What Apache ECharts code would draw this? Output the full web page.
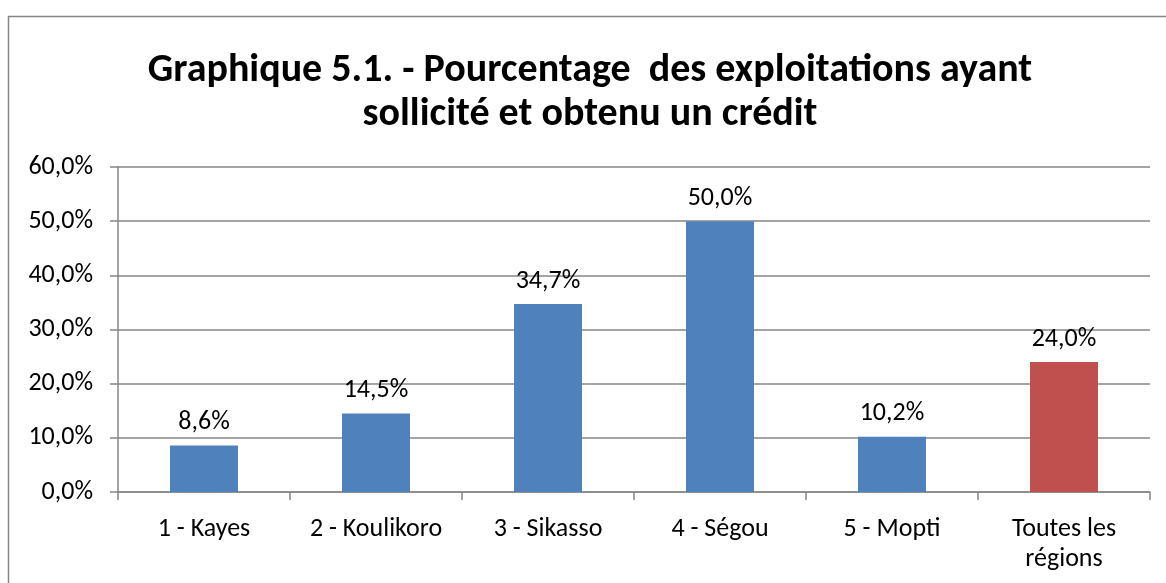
<!DOCTYPE html>
<html>
<head>
<meta charset="utf-8">
<script src="https://cdn.jsdelivr.net/npm/echarts@6/dist/echarts.min.js"></script>
<style>
  html, body { margin: 0; padding: 0; background: #fff; }
  #chart { width: 1166px; height: 583px; }
</style>
</head>
<body>
<div id="chart"></div>
<script>
const regions = ['1 - Kayes', '2 - Koulikoro', '3 - Sikasso', '4 - Ségou', '5 - Mopti', 'Toutes les\nrégions']
const creditPct = [8.6, 14.5, 34.7, 50.0, 10.2, 24.0]
const yTicks = { min: 0, max: 60, interval: 10 }

const FONT = 'Carlito, Calibri, Lato, sans-serif'
const BLUE = '#4F81BD'
const RED = '#C0504D'
const GRID_COLOR = '#868686'

const fmt = (v) => v.toFixed(1).replace('.', ',') + '%'

const chart = echarts.init(document.getElementById('chart'))
chart.setOption({
  animation: false,
  backgroundColor: '#fff',
  textStyle: { fontFamily: FONT, color: '#000' },
  title: {
    text: 'Graphique 5.1. - Pourcentage  des exploitations ayant\nsollicité et obtenu un crédit',
    left: 585,
    top: 44,
    textAlign: 'center',
    textStyle: {
      fontFamily: FONT,
      fontSize: 40,
      fontWeight: 'bold',
      color: '#000',
      lineHeight: 44,
      align: 'center'
    }
  },
  graphic: [
    {
      type: 'rect',
      shape: { x: 8.5, y: 16.5, width: 1200, height: 600 },
      style: { fill: 'none', stroke: GRID_COLOR, lineWidth: 1.5 },
      silent: true
    }
  ],
  grid: { left: 118, right: 16, top: 167, bottom: 91 },
  xAxis: {
    type: 'category',
    data: regions,
    axisLine: { show: true, lineStyle: { color: GRID_COLOR, width: 1.5 } },
    axisTick: { show: true, length: 8, lineStyle: { color: GRID_COLOR, width: 1.5 } },
    axisLabel: { fontFamily: FONT, fontSize: 26, color: '#000', margin: 22, lineHeight: 30 }
  },
  yAxis: {
    type: 'value',
    min: yTicks.min,
    max: yTicks.max,
    interval: yTicks.interval,
    axisLine: { show: true, lineStyle: { color: GRID_COLOR, width: 1.5 } },
    axisTick: { show: true, length: 8, lineStyle: { color: GRID_COLOR, width: 1.5 } },
    splitLine: { show: true, lineStyle: { color: GRID_COLOR, width: 1.5 } },
    axisLabel: { fontFamily: FONT, fontSize: 26, color: '#000', margin: 25, formatter: fmt }
  },
  series: [
    {
      type: 'bar',
      barWidth: 68,
      data: creditPct.map((v, i) => ({
        value: v,
        itemStyle: { color: i === creditPct.length - 1 ? RED : BLUE }
      })),
      label: {
        show: true,
        position: 'top',
        distance: 10,
        fontFamily: FONT,
        fontSize: 26,
        color: '#000',
        formatter: (p) => fmt(p.value)
      }
    }
  ]
})
</script>
</body>
</html>
